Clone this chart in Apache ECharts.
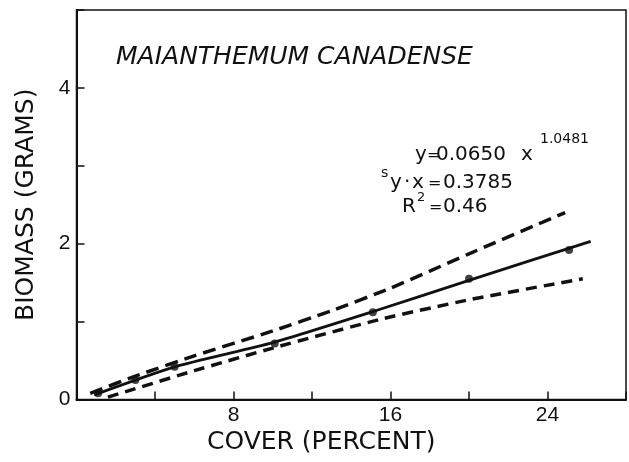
<!DOCTYPE html>
<html>
<head>
<meta charset="utf-8">
<script src="https://cdn.jsdelivr.net/npm/echarts@6/dist/echarts.min.js"></script>
<style>html,body{margin:0;padding:0;background:#fff;}#c{width:629px;height:462px;}</style>
</head>
<body>
<div id="c"></div>
<script>
// Observed data points
var coverPts   = [1.1, 3.0, 5.0, 10.1, 15.1, 20.0, 25.1];
var biomassPts = [0.08, 0.25, 0.42, 0.72, 1.12, 1.55, 1.92];
// Fitted curve
var fitX = [0.9, 5, 10, 15, 20, 26.2];
var fitY = [0.06, 0.42, 0.73, 1.12, 1.53, 2.03];
// Upper confidence band
var upperX = [0.7, 3, 6, 10, 13, 16, 20, 24.9];
var upperY = [0.08, 0.30, 0.56, 0.88, 1.14, 1.43, 1.87, 2.40];
// Lower confidence band
var lowerX = [1.6, 6, 10, 15.5, 20, 25.8];
var lowerY = [0.03, 0.37, 0.66, 1.03, 1.28, 1.55];
// Tick labels
var xTickLabels = [8, 16, 24];
var yTickLabels = [0, 2, 4];

function pairs(xs, ys){ return xs.map(function(x,i){ return [x, ys[i]]; }); }

var F = 'DejaVu Sans';
function t(x, baseline, str, size, italic){
  return { type:'text', left:x, top: baseline - 0.74*size,
    style:{ text:str, font:(italic?'italic ':'') + size + 'px "' + F + '"', fill:'#111' } };
}

var chart = echarts.init(document.getElementById('c'), null, {renderer:'canvas'});
chart.setOption({
  backgroundColor:'#fff',
  animation:false,
  grid:{ left:76.5, right:2.5, top:10, bottom:62.5, show:true, borderColor:'#111', borderWidth:1.5, backgroundColor:'transparent' },
  xAxis:{ type:'value', min:0, max:28, interval:4,
    name:'COVER (PERCENT)', nameLocation:'middle', nameGap:27,
    nameTextStyle:{ fontFamily:F, fontSize:25, color:'#111', padding:[0,60,0,0] },
    axisLine:{ show:true, lineStyle:{ color:'#111', width:2 } },
    axisTick:{ show:true, inside:true, length:8, lineStyle:{ color:'#111', width:1.5 } },
    axisLabel:{ fontFamily:'Liberation Sans', fontSize:21, color:'#111', margin:5,
      formatter:function(v){ return xTickLabels.indexOf(v) >= 0 ? String(v) : ''; } },
    splitLine:{ show:false } },
  yAxis:{ type:'value', min:0, max:5, interval:1,
    name:'BIOMASS (GRAMS)', nameLocation:'middle', nameGap:38,
    nameTextStyle:{ fontFamily:F, fontSize:25, color:'#111' },
    axisLine:{ show:true, lineStyle:{ color:'#111', width:2 } },
    axisTick:{ show:true, inside:true, length:8, lineStyle:{ color:'#111', width:1.5 } },
    axisLabel:{ fontFamily:'Liberation Sans', fontSize:21, color:'#111', margin:6,
      formatter:function(v){ return yTickLabels.indexOf(v) >= 0 ? String(v) : ''; } },
    splitLine:{ show:false } },
  series:[
    { type:'line', data:pairs(upperX, upperY), showSymbol:false, smooth:0.2,
      lineStyle:{ color:'#111', width:3.5, type:[13,7] } },
    { type:'line', data:pairs(lowerX, lowerY), showSymbol:false, smooth:0.2,
      lineStyle:{ color:'#111', width:3.5, type:[11,7] } },
    { type:'line', data:pairs(fitX, fitY), showSymbol:false, smooth:0.2,
      lineStyle:{ color:'#111', width:2.8 } },
    { type:'scatter', data:pairs(coverPts, biomassPts), symbol:'circle', symbolSize:8,
      itemStyle:{ color:'#111' } }
  ],
  graphic:[
    t(116, 63, 'MAIANTHEMUM CANADENSE', 25, true),
    t(415, 160, 'y', 20), t(427, 160, '=', 16), t(436, 160, '0.0650', 20), t(521, 160, 'x', 20),
    t(540, 143, '1.0481', 14),
    t(381, 177, 's', 14), t(390, 188, 'y', 20), t(404, 188, '\u00b7', 20), t(412, 188, 'x', 20),
    t(428, 188, '=', 16), t(443, 188, '0.3785', 20),
    t(402, 212, 'R', 20), t(417, 201, '2', 13), t(429, 212, '=', 16), t(443, 212, '0.46', 20)
  ]
});
</script>
</body>
</html>
